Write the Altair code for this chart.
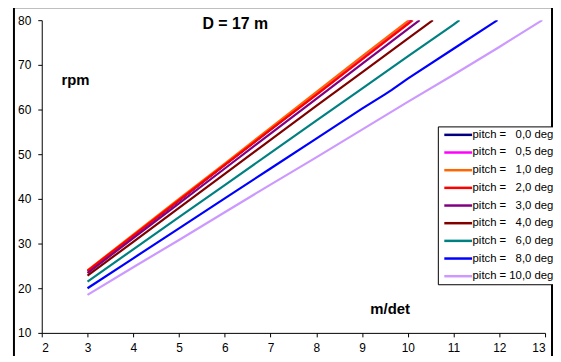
import altair as alt
import pandas as pd

# ---- data ----
labels = [
    "pitch = \u20070,0 deg",
    "pitch = \u20070,5 deg",
    "pitch = \u20071,0 deg",
    "pitch = \u20072,0 deg",
    "pitch = \u20073,0 deg",
    "pitch = \u20074,0 deg",
    "pitch = \u20076,0 deg",
    "pitch = \u20078,0 deg",
    "pitch = 10,0 deg",
]
colors = ["#000080", "#FF00FF", "#FF6600", "#FF0000", "#800080",
          "#800000", "#008080", "#0000FF", "#CC99FF"]

v_p00 = [3, 4, 5, 6, 7, 8, 9, 10, 10.08]
r_p00 = [23.8, 31.7, 39.6, 47.6, 55.5, 63.4, 71.4, 79.3, 80]
v_p05 = [3, 4, 5, 6, 7, 8, 9, 10, 10.05]
r_p05 = [23.9, 31.8, 39.8, 47.7, 55.7, 63.6, 71.6, 79.5, 80]
v_p10 = [3, 4, 5, 6, 7, 8, 9, 10, 10.02]
r_p10 = [24.0, 32.0, 40.0, 47.9, 55.9, 63.9, 71.9, 79.8, 80]
v_p20 = [3, 4, 5, 6, 7, 8, 9, 10, 10.11]
r_p20 = [23.9, 31.8, 39.7, 47.6, 55.5, 63.3, 71.2, 79.1, 80]
v_p30 = [3, 4, 5, 6, 7, 8, 9, 10, 10.26]
r_p30 = [23.4, 31.2, 39.0, 46.8, 54.6, 62.4, 70.2, 78.0, 80]
v_p40 = [3, 4, 5, 6, 7, 8, 9, 10, 10.55]
r_p40 = [22.8, 30.4, 38.0, 45.6, 53.2, 60.8, 68.3, 75.9, 80]
v_p60 = [3, 4, 5, 6, 7, 8, 9, 10, 11, 11.13]
r_p60 = [21.5, 28.7, 35.9, 43.1, 50.3, 57.5, 64.7, 71.9, 79.0, 80]
v_p80 = [3, 4, 5, 6, 7, 8, 9, 9.5, 9.65, 10, 11, 11.96]
r_p80 = [20.0, 26.7, 33.4, 40.1, 46.8, 53.5, 60.2, 63.4, 64.4, 66.9, 73.6, 80]
v_p100 = [3, 4, 5, 6, 7, 8, 9, 10, 11, 12, 12.94]
r_p100 = [18.5, 24.7, 30.8, 37.0, 43.2, 49.3, 55.5, 61.7, 67.8, 74.0, 80]

series_v = [v_p00, v_p05, v_p10, v_p20, v_p30, v_p40, v_p60, v_p80, v_p100]
series_r = [r_p00, r_p05, r_p10, r_p20, r_p30, r_p40, r_p60, r_p80, r_p100]

x_ticks = list(range(2, 14))
y_ticks = list(range(10, 81, 10))

rows = []
for lab, vs, rs in zip(labels, series_v, series_r):
    for i, (v, r) in enumerate(zip(vs, rs)):
        rows.append({"v": v, "rpm": r, "series": lab, "i": i})
df = pd.DataFrame(rows)

FONT = "Liberation Sans"

lines = alt.Chart(df).mark_line(strokeWidth=2.2, clip=True).encode(
    x=alt.X("v:Q", scale=alt.Scale(domain=[2, 13], nice=False),
            axis=alt.Axis(values=x_ticks, title=None, grid=False, tickSize=4,
                          labelPadding=6, format="d")),
    y=alt.Y("rpm:Q", scale=alt.Scale(domain=[10, 80], nice=False),
            axis=alt.Axis(values=y_ticks, title=None, grid=False, tickSize=4,
                          labelPadding=7, format="d")),
    color=alt.Color("series:N", sort=labels,
                    scale=alt.Scale(domain=labels, range=colors),
                    legend=alt.Legend(title=None, orient="none", legendX=399, legendY=107,
                                      symbolType="M-0.4,0H5.2", symbolSize=100,
                                      symbolStrokeWidth=2.5,
                                      labelFont=FONT, labelFontSize=11.4, labelColor="black",
                                      fillColor="white", strokeColor="black",
                                      padding=2, rowPadding=5.8, labelOffset=20)),
    order="i:Q",
)

one = pd.DataFrame({"a": [0]})
frame = alt.Chart(one).mark_rect(fill="transparent", stroke="black", strokeWidth=2).encode(
    x=alt.value(-28), x2=alt.value(514), y=alt.value(-13), y2=alt.value(400)
)
title = alt.Chart(one).mark_text(text="D = 17 m", font=FONT, fontSize=16,
                                 fontWeight="bold", color="black").encode(
    x=alt.value(195), y=alt.value(4))
rpm_lbl = alt.Chart(one).mark_text(text="rpm", font=FONT, fontSize=15,
                                   fontWeight="bold", color="black").encode(
    x=alt.value(34), y=alt.value(60))
mdet_lbl = alt.Chart(one).mark_text(text="m/det", font=FONT, fontSize=15,
                                    fontWeight="bold", color="black").encode(
    x=alt.value(351), y=alt.value(291))

chart = alt.layer(frame, lines, title, rpm_lbl, mdet_lbl).properties(
    width=507, height=315,
    autosize=alt.AutoSizeParams(type="none"),
    padding={"left": 34, "top": 11, "right": 8, "bottom": 22},
    background="white",
).configure_view(strokeWidth=0).configure_axis(
    domainColor="black", tickColor="black", labelColor="black",
    labelFont=FONT, labelFontSize=12, domainWidth=1,
)

chart.save("out.html", embed_options={"renderer": "svg", "actions": False})
